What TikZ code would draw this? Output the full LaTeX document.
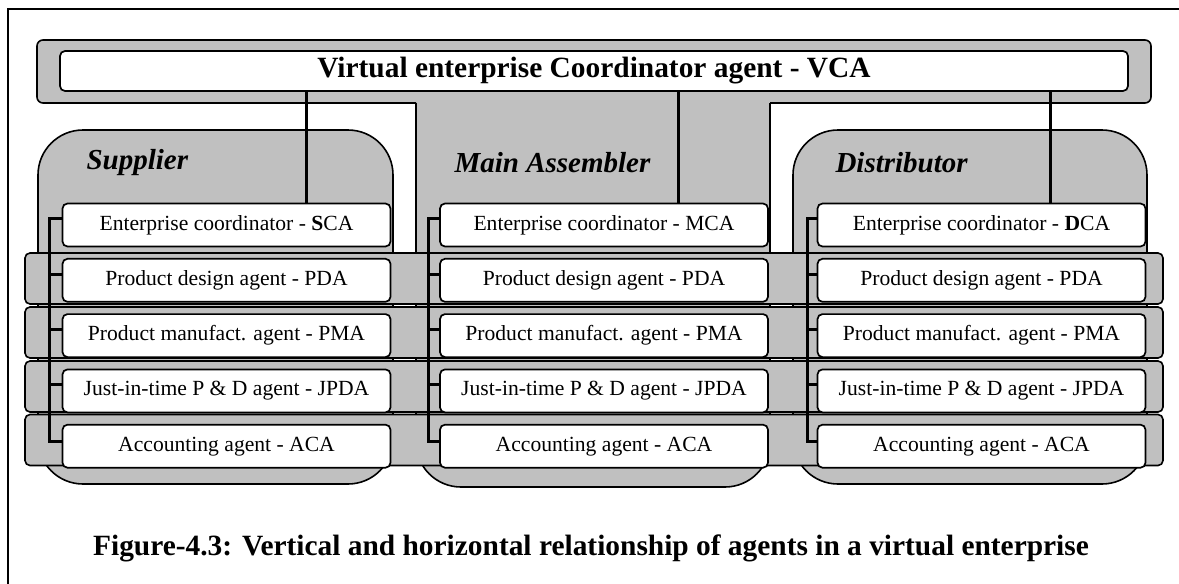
\documentclass[tikz,border=0pt]{standalone}
\usepackage{fontspec}
\setmainfont{Liberation Serif}
\usetikzlibrary{positioning}

\definecolor{panelgray}{RGB}{192,192,192}

\tikzset{
  panel/.style={draw, line width=1.6pt, fill=panelgray},
  agent/.style={draw, line width=1.7pt, fill=white, rounded corners=5pt,
    minimum width=328pt, minimum height=43pt, inner sep=0pt,
    font=\fontsize{21.6}{24}\selectfont},
  link/.style={line width=3pt},
  tree/.style={line width=3pt},
  orglabel/.style={anchor=west, font=\fontsize{29}{32}\selectfont\bfseries\itshape},
}

\begin{document}
\begin{tikzpicture}[x=1pt, y=-1pt, node distance=10.6pt]
  \useasboundingbox (0,0) rectangle (1179,584);
  \draw[line width=2pt] (8,584) -- (8,9) -- (1179,9);

  % enterprise columns
  \draw[panel, rounded corners=45pt] (38,130) rectangle (393,484);
  \draw[panel, rounded corners=45pt] (793,130) rectangle (1147,484);
  \fill[panelgray, rounded corners=6pt] (37,40) rectangle (1151,103);
  \draw[panel, rounded corners=45pt] (416,103) -- (416,487) -- (770,487) -- (770,103);
  \draw[line width=1.6pt, rounded corners=6pt] (416,103) -- (37,103) -- (37,40) -- (1151,40) -- (1151,103) -- (770,103);

  % horizontal rows
  \foreach \y in {278.5, 332.5, 386.5, 440}
    \draw[panel, rounded corners=5pt] (25,\y-25.5) rectangle (1163,\y+25.5);

  \node[draw, line width=1.7pt, fill=white, rounded corners=5pt, minimum width=1068pt,
    minimum height=40pt, font=\fontsize{29.4}{32}\selectfont\bfseries] (vca) at (594,71)
    {Virtual enterprise Coordinator agent - VCA};

  \node[orglabel] (supplier) at (83,163) {Supplier};
  \node[orglabel] (assembler) at (451,163) {Main Assembler};
  \node[orglabel] (distributor) at (832,163) {Distributor};

  % supplier agents
  \node[agent] (s-ca) at (226.5,225) {Enterprise coordinator - \textbf{S}CA};
  \node[agent, below=of s-ca] (s-pda) {Product design agent - PDA};
  \node[agent, below=of s-pda] (s-pma) {Product manufact. agent - PMA};
  \node[agent, below=of s-pma] (s-jpda) {Just-in-time P \& D agent - JPDA};
  \node[agent, below=of s-jpda] (s-aca) {Accounting agent - ACA};

  % main assembler agents
  \node[agent] (m-ca) at (604,225) {Enterprise coordinator - MCA};
  \node[agent, below=of m-ca] (m-pda) {Product design agent - PDA};
  \node[agent, below=of m-pda] (m-pma) {Product manufact. agent - PMA};
  \node[agent, below=of m-pma] (m-jpda) {Just-in-time P \& D agent - JPDA};
  \node[agent, below=of m-jpda] (m-aca) {Accounting agent - ACA};

  % distributor agents
  \node[agent] (d-ca) at (981.5,225) {Enterprise coordinator - \textbf{D}CA};
  \node[agent, below=of d-ca] (d-pda) {Product design agent - PDA};
  \node[agent, below=of d-pda] (d-pma) {Product manufact. agent - PMA};
  \node[agent, below=of d-pma] (d-jpda) {Just-in-time P \& D agent - JPDA};
  \node[agent, below=of d-jpda] (d-aca) {Accounting agent - ACA};

  % vertical relations
  \draw[link] ([xshift=80pt]s-ca.north) -- ([xshift=80pt]s-ca.north |- vca.south);
  \draw[link] ([xshift=74pt]m-ca.north) -- ([xshift=74pt]m-ca.north |- vca.south);
  \draw[link] ([xshift=68.5pt]d-ca.north) -- ([xshift=68.5pt]d-ca.north |- vca.south);

  % horizontal relations
  \foreach \c/\d in {s/12, m/11, d/9} {
    \draw[tree] ([yshift=7pt]\c-ca.west) -- ++(-\d,0) |- ([yshift=5pt]\c-aca.west);
    \foreach \r in {pda, pma, jpda}
      \draw[tree] ([yshift=6pt]\c-\r.west) -- ++(-\d,0);
  }

  \node[font=\fontsize{29.4}{32}\selectfont\bfseries] (caption) at (591,548)
    {Figure-4.3: Vertical and horizontal relationship of agents in a virtual enterprise};
\end{tikzpicture}
\end{document}
